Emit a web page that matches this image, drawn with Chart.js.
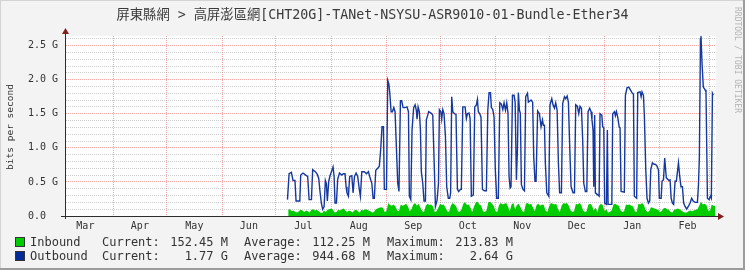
<!DOCTYPE html>
<html>
<head>
<meta charset="utf-8">
<script src="https://cdn.jsdelivr.net/npm/chart.js@4.4.1/dist/chart.umd.min.js"></script>
<style>
html, body { margin: 0; padding: 0; background: #f3f3f3; }
#wrap { position: relative; width: 745px; height: 270px; overflow: hidden; }
#wrap canvas { position: absolute; left: 0; top: 0; }
.t { position: absolute; font-family: 'DejaVu Sans Mono', 'Noto Sans CJK TC', monospace; color: #333; white-space: pre; }
.lg { font-size: 12px; line-height: 14px; }
.r { text-align: right; }
.box { position: absolute; left: 15px; width: 8px; height: 8px; border: 1px solid #333; }
</style>
</head>
<body>
<div id="wrap">
  <canvas id="grafico_trafego" width="745" height="270"></canvas>
  <div class="t" style="left:0;top:6px;width:745px;text-align:center;font-size:13.3px;line-height:18px;color:#3a3a3a;">屏東縣網 &gt; 高屏澎區網[CHT20G]-TANet-NSYSU-ASR9010-01-Bundle-Ether34</div>
  <div class="t" style="left:-50px;top:121px;width:120px;height:12px;line-height:12px;font-size:9.5px;text-align:center;transform:rotate(-90deg);">bits per second</div>
  <div class="t" style="left:677px;top:55px;width:120px;height:10px;line-height:10px;font-size:8px;text-align:center;color:#b4b4b4;transform:rotate(90deg);">RRDTOOL / TOBI OETIKER</div>

  <div class="box" style="top:237px;background:#00cc00;"></div>
  <div class="t lg" style="left:30px;top:235px;">Inbound</div>
  <div class="t lg" style="left:102px;top:235px;">Current:</div>
  <div class="t lg r" style="right:517px;top:235px;">152.45 M</div>
  <div class="t lg" style="left:244px;top:235px;">Average:</div>
  <div class="t lg r" style="right:375px;top:235px;">112.25 M</div>
  <div class="t lg" style="left:387px;top:235px;">Maximum:</div>
  <div class="t lg r" style="right:232px;top:235px;">213.83 M</div>

  <div class="box" style="top:251px;background:#002a97;"></div>
  <div class="t lg" style="left:30px;top:249px;">Outbound</div>
  <div class="t lg" style="left:102px;top:249px;">Current:</div>
  <div class="t lg r" style="right:517px;top:249px;">1.77 G</div>
  <div class="t lg" style="left:244px;top:249px;">Average:</div>
  <div class="t lg r" style="right:375px;top:249px;">944.68 M</div>
  <div class="t lg" style="left:387px;top:249px;">Maximum:</div>
  <div class="t lg r" style="right:232px;top:249px;">2.64 G</div>
</div>
<script>
// eixo x em dias contados a partir de 1 de março (um ano de dados)
const month_names = ['Mar', 'Apr', 'May', 'Jun', 'Jul', 'Aug', 'Sep', 'Oct', 'Nov', 'Dec', 'Jan', 'Feb']
const month_starts = [31, 61, 92, 122, 153, 184, 214, 245, 275, 306, 337, 365]
const label_days = [15.5, 46, 76.5, 107, 137.5, 168.5, 199, 229.5, 260, 290.5, 321.5, 352.5]

// Outbound (Gbps) - vértices
const out_days = [
    128.6,129.5,130.8,131.7,132.8,133.4,135.5,136.0,137.3,138.8,139.9,140.7,
    142.0,142.7,144.2,145.3,146.1,146.8,147.6,148.3,149.1,149.8,150.4,150.9,
    151.7,152.4,153.2,154.1,154.7,155.2,156.0,156.7,157.7,159.0,159.9,160.8,
    161.4,161.9,162.7,163.4,164.6,165.3,166.1,167.0,167.9,168.7,169.4,170.2,
    171.6,172.8,173.9,174.6,175.8,176.5,177.2,178.0,179.1,180.0,180.8,181.5,
    182.3,182.8,184.0,184.7,185.3,185.8,186.6,187.3,188.1,188.8,189.6,190.3,
    191.0,191.8,192.5,193.3,194.4,195.5,
    196.3,196.8,197.6,198.3,199.2,200.0,200.7,201.1,201.7,202.4,203.0,203.5,
    204.3,205.0,205.8,206.3,207.1,207.6,208.9,209.9,210.8,211.4,212.3,213.1,
    213.6,214.4,214.9,215.5,216.2,217.0,217.7,218.6,219.4,219.9,220.5,221.1,
    222.0,222.9,223.7,224.4,225.4,225.9,226.7,228.0,228.7,229.3,230.2,
    230.8,231.5,232.6,233.4,234.3,234.9,235.4,236.2,236.9,237.7,238.8,239.9,
    240.7,241.4,242.2,242.7,243.5,244.2,244.9,245.7,246.6,247.4,248.3,249.1,
    249.8,250.6,251.3,252.0,252.6,253.2,253.7,254.5,255.4,256.0,256.7,257.3,
    257.8,258.4,258.9,259.5,260.4,261.2,261.9,262.9,263.4,264.4,264.9,
    265.8,266.4,267.1,267.7,268.6,269.6,270.5,271.3,271.8,272.4,272.9,273.7,
    274.8,275.5,276.5,277.2,278.0,278.7,279.5,280.2,280.9,281.9,282.6,283.6,
    284.3,285.1,285.8,286.6,287.3,288.4,289.2,289.9,290.8,291.6,292.3,293.1,
    293.8,294.4,295.3,296.1,296.8,297.7,298.5,299.0,299.6,
    300.0,300.5,300.9,302.2,303.0,303.5,304.5,305.0,305.6,306.1,307.1,307.6,
    308.0,309.3,310.1,310.6,311.6,312.1,312.7,313.4,314.2,314.7,315.3,317.1,
    317.7,318.6,319.6,320.5,321.6,322.2,322.7,324.0,324.6,325.9,326.5,327.0,
    327.8,328.3,329.1,329.8,330.6,331.3,331.9,332.8,333.7,334.3,
    335.2,336.2,336.7,337.7,338.2,339.0,339.7,340.3,340.6,341.4,342.1,342.7,
    343.3,344.0,344.7,345.5,346.2,347.4,348.1,348.8,349.6,350.3,351.1,352.0,
    352.9,353.9,354.8,355.6,356.7,358.0,358.6,359.1,359.7,360.0,360.6,361.3,
    362.3,362.8,363.6,364.5,365.3,365.8,366.4,366.9
]
const out_vals = [
    0.24,0.62,0.64,0.52,0.52,0.22,0.22,0.60,0.63,0.60,0.58,0.24,
    0.24,0.68,0.65,0.61,0.55,0.36,0.18,0.10,0.14,0.52,0.47,0.22,
    0.51,0.59,0.65,0.72,0.58,0.19,0.19,0.54,0.63,0.60,0.62,0.62,
    0.43,0.34,0.29,0.58,0.59,0.34,0.58,0.63,0.58,0.41,0.29,0.65,
    0.65,0.62,0.65,0.58,0.48,0.26,0.26,0.67,0.70,0.73,0.99,1.31,
    1.31,0.39,0.39,1.99,1.94,1.82,1.53,1.53,1.59,1.53,0.97,0.48,
    0.36,1.69,1.69,1.59,1.59,1.60,
    1.53,0.29,0.24,1.26,1.59,1.63,1.55,1.42,1.60,1.53,1.26,0.65,
    0.48,0.22,0.22,1.41,1.48,1.53,1.51,1.48,0.68,0.14,0.23,0.48,
    1.56,1.53,1.42,1.56,1.50,1.16,0.43,0.26,0.26,0.34,1.75,1.53,
    1.50,1.49,0.39,0.36,0.39,0.39,1.60,1.60,1.43,1.50,1.51,
    1.43,0.29,0.31,1.60,1.63,1.71,1.53,1.50,1.45,0.39,0.37,0.37,
    1.55,1.81,1.81,1.59,1.56,1.45,0.68,0.26,0.26,1.66,1.64,1.56,
    1.66,1.55,1.66,1.51,0.58,0.41,0.43,1.77,1.77,1.67,0.53,0.99,
    1.81,1.55,1.51,0.46,0.39,0.37,1.75,1.80,1.67,1.69,1.70,
    1.67,0.87,0.51,0.51,1.54,1.50,1.31,1.41,1.33,1.33,0.78,0.34,
    0.29,1.63,1.72,1.63,1.58,1.66,1.55,0.78,0.34,0.34,1.65,1.75,
    1.72,1.76,1.67,0.97,0.43,0.34,0.34,1.63,1.61,1.50,1.61,1.58,
    1.11,0.48,0.36,0.36,1.53,1.58,1.53,1.41,1.26,
    0.43,1.48,0.34,0.31,0.29,1.50,1.48,1.31,1.29,0.19,0.17,1.26,
    0.17,0.17,0.17,1.50,1.53,1.47,1.53,1.45,1.31,1.29,0.36,0.35,
    1.77,1.88,1.89,1.85,1.80,1.79,0.29,0.26,1.81,1.82,1.75,1.82,
    1.77,1.48,0.68,0.26,0.19,0.22,0.68,0.78,0.76,0.76,
    0.74,0.68,0.26,0.26,0.51,0.53,0.85,0.65,0.56,0.54,0.52,0.53,
    0.26,0.19,0.17,0.51,0.51,0.78,0.58,0.43,0.43,0.19,0.14,0.10,
    0.14,0.19,0.26,0.22,0.20,0.20,0.46,0.87,2.60,2.64,2.23,1.89,
    1.85,1.82,0.26,0.24,0.29,0.26,1.80,1.77
]

// Inbound (Gbps) - um valor por dia a partir do dia 129
const in_first_day = 129
const in_vals = [
    0.09,0.10,0.07,0.08,0.06,0.05,0.07,0.09,0.08,0.06,
    0.08,0.07,0.05,0.09,0.10,0.08,0.09,0.07,0.05,0.04,
    0.08,0.06,0.09,0.10,0.11,0.09,0.05,0.06,0.09,0.08,
    0.10,0.11,0.08,0.06,0.08,0.07,0.05,0.08,0.09,0.07,
    0.05,0.09,0.08,0.10,0.09,0.08,0.07,0.05,0.06,0.10,
    0.11,0.12,0.13,0.12,0.06,0.07,0.19,0.16,0.15,0.17,
    0.14,0.08,0.07,0.17,0.15,0.16,0.18,0.14,0.07,0.10,
    0.17,0.19,0.15,0.18,0.12,0.07,0.06,0.15,0.18,0.16,
    0.17,0.14,0.06,0.07,0.12,0.18,0.16,0.17,0.12,0.07,
    0.06,0.15,0.19,0.17,0.14,0.07,0.06,0.10,0.18,0.20,
    0.16,0.17,0.12,0.06,0.14,0.20,0.21,0.17,0.15,0.07,
    0.06,0.08,0.20,0.21,0.18,0.15,0.07,0.06,0.16,0.19,
    0.17,0.18,0.19,0.14,0.07,0.17,0.19,0.10,0.16,0.18,
    0.13,0.07,0.06,0.18,0.19,0.17,0.18,0.12,0.07,0.16,
    0.18,0.15,0.17,0.16,0.08,0.06,0.14,0.19,0.18,0.17,
    0.18,0.10,0.06,0.15,0.19,0.18,0.19,0.15,0.08,0.06,
    0.07,0.18,0.17,0.19,0.16,0.08,0.06,0.07,0.17,0.18,
    0.15,0.08,0.12,0.06,0.15,0.18,0.16,0.07,0.10,0.05,
    0.06,0.08,0.17,0.18,0.16,0.15,0.08,0.06,0.07,0.17,
    0.16,0.17,0.15,0.14,0.07,0.06,0.18,0.17,0.19,0.16,
    0.09,0.06,0.07,0.13,0.12,0.11,0.10,0.09,0.06,0.07,
    0.11,0.12,0.10,0.09,0.06,0.05,0.09,0.10,0.11,0.10,
    0.08,0.06,0.05,0.05,0.07,0.08,0.07,0.08,0.09,0.10,
    0.15,0.21,0.17,0.18,0.16,0.08,0.07,0.17,0.15,0.15
]

const cor_grade = 'rgba(128, 128, 128, 0.4)'    // grade menor
const cor_grade_maior = 'rgba(235, 60, 60, 0.45)' // grade maior (vermelha)
const cor_eixo = '#2c2c2c'
const cor_seta = '#7f1f1f'
const fonte_ticks = { family: "'DejaVu Sans Mono', monospace", size: 10 }

const outbound_pts = out_days.map((d, i) => ({ x: d, y: out_vals[i] }))
const inbound_pts = in_vals.map((v, i) => ({ x: in_first_day + i, y: v }))

// fundo, moldura, eixos e setas no estilo rrdtool
const moldura_rrd = {
    id: 'moldura_rrd',
    beforeDraw(chart) {
        const { ctx, chartArea: a, width, height } = chart
        ctx.save()
        ctx.fillStyle = '#f3f3f3'
        ctx.fillRect(0, 0, width, height)
        ctx.fillStyle = '#ffffff'
        ctx.fillRect(a.left, a.top, a.right - a.left, a.bottom - a.top)
        ctx.fillStyle = '#d4d4d4'
        ctx.fillRect(0, 0, width, 1)
        ctx.fillRect(0, 0, 1, height)
        ctx.fillStyle = '#9c9c9c'
        ctx.fillRect(0, height - 2, width, 2)
        ctx.fillRect(width - 2, 0, 2, height)
        ctx.restore()
    },
    afterDatasetsDraw(chart) {
        const { ctx, chartArea: a } = chart
        ctx.save()
        ctx.strokeStyle = cor_eixo
        ctx.lineWidth = 1
        ctx.beginPath()
        ctx.moveTo(a.left - 4, a.bottom + 0.5)
        ctx.lineTo(a.right + 3, a.bottom + 0.5)
        ctx.moveTo(a.left + 0.5, a.bottom + 3)
        ctx.lineTo(a.left + 0.5, a.top - 3)
        ctx.stroke()
        ctx.fillStyle = cor_seta
        ctx.beginPath()
        ctx.moveTo(a.right + 8, a.bottom + 0.5)
        ctx.lineTo(a.right + 2, a.bottom - 3)
        ctx.lineTo(a.right + 2, a.bottom + 4)
        ctx.closePath()
        ctx.fill()
        ctx.beginPath()
        ctx.moveTo(a.left + 0.5, a.top - 8)
        ctx.lineTo(a.left - 3, a.top - 2)
        ctx.lineTo(a.left + 4, a.top - 2)
        ctx.closePath()
        ctx.fill()
        ctx.restore()
    }
}

const ctx_trafego = document.getElementById('grafico_trafego').getContext('2d')

let grafico_trafego = new Chart(ctx_trafego, {
    type: 'line',
    data: {
        datasets: [{
            label: 'Outbound',
            data: outbound_pts,
            borderColor: '#1438a0',
            borderWidth: 1.4,
            pointRadius: 0,
            fill: false,
            tension: 0
        }, {
            label: 'Inbound',
            data: inbound_pts,
            borderColor: '#00cc00',
            borderWidth: 0,
            backgroundColor: '#00cc00',
            pointRadius: 0,
            fill: 'origin',
            tension: 0
        }]
    },
    options: {
        responsive: false,
        animation: false,
        events: [],
        layout: {
            autoPadding: false,
            padding: { left: 0, right: 29, top: 36, bottom: 34 }
        },
        plugins: {
            legend: { display: false },
            tooltip: { enabled: false },
            title: { display: false }
        },
        scales: {
            x: {
                type: 'linear',
                min: 4.1,
                max: 368.4,
                afterBuildTicks: function(scale) {
                    scale.ticks = month_starts.concat(label_days).sort((a, b) => a - b).map(v => ({ value: v }))
                },
                afterFit: function(scale) { scale.height = 20 },
                grid: {
                    drawTicks: false,
                    color: function(c) {
                        return c.tick && month_starts.includes(c.tick.value) ? cor_grade_maior : 'rgba(0,0,0,0)'
                    }
                },
                border: { color: cor_eixo, dash: [1, 1] },
                ticks: {
                    autoSkip: false,
                    maxRotation: 0,
                    padding: 4,
                    color: '#333',
                    font: fonte_ticks,
                    callback: function(value) {
                        const i = label_days.indexOf(value)
                        return i >= 0 ? month_names[i] : ''
                    }
                }
            },
            y: {
                min: 0,
                max: 2.64,
                afterFit: function(scale) { scale.width = 65 },
                grid: {
                    drawTicks: false,
                    color: function(c) {
                        return Math.round(c.tick.value * 10) % 5 === 0 ? cor_grade_maior : cor_grade
                    }
                },
                border: { color: cor_eixo, dash: [1, 1] },
                ticks: {
                    stepSize: 0.1,
                    includeBounds: false,
                    autoSkip: false,
                    padding: 7,
                    color: '#333',
                    font: fonte_ticks,
                    callback: function(value) {
                        const k = Math.round(value * 10)
                        if (k % 5 !== 0) return ''
                        return k === 0 ? '0.0  ' : (k / 10).toFixed(1) + ' G'
                    }
                }
            }
        }
    },
    plugins: [moldura_rrd]
});
</script>
</body>
</html>
